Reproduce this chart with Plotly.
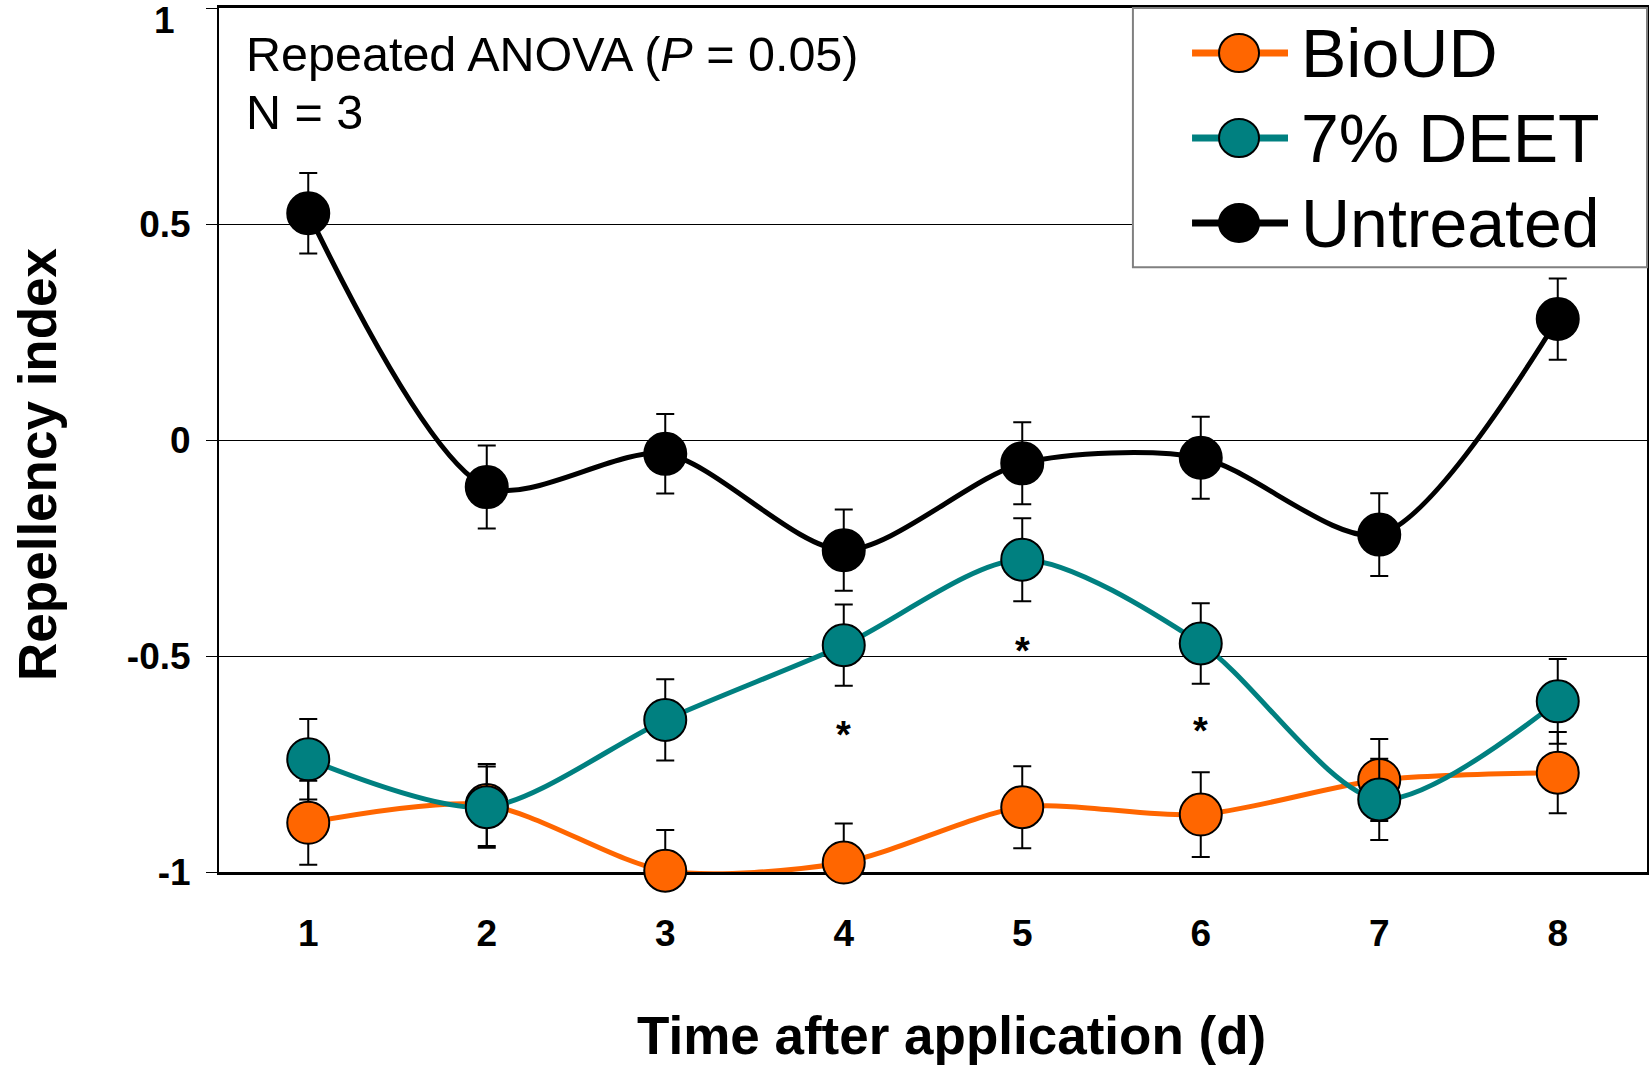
import plotly.graph_objects as go

# ---------------- data ----------------
days = [1, 2, 3, 4, 5, 6, 7, 8]
series_names = ["BioUD", "7% DEET", "Untreated"]
bioud = [-0.886, -0.845, -0.997, -0.978, -0.850, -0.867, -0.787, -0.770]
bioud_err = [0.097, 0.095, 0.094, 0.090, 0.095, 0.098, 0.095, 0.094]
deet = [-0.739, -0.850, -0.648, -0.475, -0.277, -0.471, -0.832, -0.605]
deet_err = [0.093, 0.094, 0.094, 0.094, 0.096, 0.093, 0.094, 0.098]
untreated = [0.525, -0.109, -0.032, -0.255, -0.054, -0.041, -0.219, 0.280]
untreated_err = [0.093, 0.096, 0.092, 0.094, 0.095, 0.095, 0.096, 0.094]
sig_days = [4, 5, 6]
sig_y = [-0.664, -0.470, -0.655]
sig_text = ["*", "*", "*"]
y_tickvals = [-1, -0.5, 0, 0.5, 1]
y_ticktext = ["-1", "-0.5", "0", "0.5", "1"]
x_ticktext = ["1", "2", "3", "4", "5", "6", "7", "8"]
colors = ["#FF6600", "#008080", "#000000"]
stats_lines = ["Repeated ANOVA (<i>P</i> = 0.05)", "N = 3"]
x_title = "Time after application (d)"
y_title = "Repellency index"

FONT = "Liberation Sans, Arial, sans-serif"
TICKFONT = dict(family=FONT, size=37, color="black", weight="bold")
TITLEFONT = dict(family=FONT, size=53, color="black", weight="bold")

fig = go.Figure()
series = [(bioud, bioud_err), (deet, deet_err), (untreated, untreated_err)]
for i in [2, 0, 1]:  # draw order: Untreated, BioUD, DEET on top
    y, e = series[i]
    fig.add_trace(go.Scatter(
        x=days, y=y, name=series_names[i], mode="lines+markers",
        line=dict(color=colors[i], width=5, shape="spline", smoothing=0.8),
        marker=dict(size=42, color=colors[i], line=dict(color="black", width=2)),
        error_y=dict(type="data", array=e, visible=True, color="black",
                     thickness=2, width=9),
        cliponaxis=False, showlegend=False))

annotations = []
# significance asterisks
for xd, yv, t in zip(sig_days, sig_y, sig_text):
    annotations.append(dict(x=xd, y=yv, xref="x", yref="y", text=t, showarrow=False,
                            yshift=-8, font=dict(family=FONT, size=38, color="black", weight="bold")))
# stats text
stat_y = [0.9468, 0.8796]
for t, yy in zip(stats_lines, stat_y):
    annotations.append(dict(x=0.0175, y=yy, xref="paper", yref="paper", text=t,
                            showarrow=False, xanchor="left", yanchor="middle",
                            font=dict(family=FONT, size=48.5, color="black")))

# the top tick label sits inside the figure edge (as in the original)
annotations.append(dict(x=-0.0385, y=0.985, xref="paper", yref="paper", text=y_ticktext[-1],
                        showarrow=False, xanchor="center", yanchor="middle", font=TICKFONT))

# axis titles
annotations.append(dict(x=0.5133, y=-0.1887, xref="paper", yref="paper", text=x_title,
                        showarrow=False, xanchor="center", yanchor="middle", font=TITLEFONT))
annotations.append(dict(x=-0.1275, y=0.4722, xref="paper", yref="paper", text=y_title,
                        textangle=-90, showarrow=False, xanchor="center", yanchor="middle",
                        font=TITLEFONT))

# manual legend (large symbols like the original)
shapes = [dict(type="rect", xref="paper", yref="paper", x0=0.640, x1=1.0, y0=0.700, y1=1.0,
               line=dict(color="#808080", width=2), fillcolor="white", layer="above")]
row_y = [0.9479, 0.8495, 0.7512]
for i, ry in enumerate(row_y):
    shapes.append(dict(type="line", xref="paper", yref="paper", x0=0.6814, x1=0.7486,
                       y0=ry, y1=ry, line=dict(color=colors[i], width=7), layer="above"))
    shapes.append(dict(type="circle", xref="paper", yref="paper",
                       xsizemode="pixel", ysizemode="pixel", xanchor=0.7143, yanchor=ry,
                       x0=-20, x1=20, y0=-19, y1=19, fillcolor=colors[i],
                       line=dict(color="black", width=2), layer="above"))
    annotations.append(dict(x=0.7563, y=ry, xref="paper", yref="paper", text=series_names[i],
                            showarrow=False, xanchor="left", yanchor="middle",
                            font=dict(family=FONT, size=68, color="black")))

fig.update_layout(
    width=1649, height=1067,
    margin=dict(l=219, r=2, t=8, b=195, autoexpand=False),
    paper_bgcolor="white", plot_bgcolor="white",
    font=dict(family=FONT, color="black"),
    shapes=shapes, annotations=annotations,
    xaxis=dict(range=[0.5, 8.5], tickmode="array", tickvals=days, ticktext=x_ticktext,
               ticks="", showgrid=False, zeroline=False,
               showline=True, linecolor="black", linewidth=3, mirror=True,
               layer="below traces", tickfont=TICKFONT, ticklabelstandoff=27),
    yaxis=dict(range=[-1, 1], tickmode="array", tickvals=y_tickvals, ticktext=y_ticktext,
               ticks="outside", ticklen=11, tickwidth=1, tickcolor="black",
               showgrid=True, gridcolor="black", gridwidth=1, zeroline=False,
               showline=True, linecolor="black", linewidth=2, mirror=True,
               layer="below traces", tickfont=TICKFONT, ticklabelstandoff=8),
)

fig.write_html("out.html")
